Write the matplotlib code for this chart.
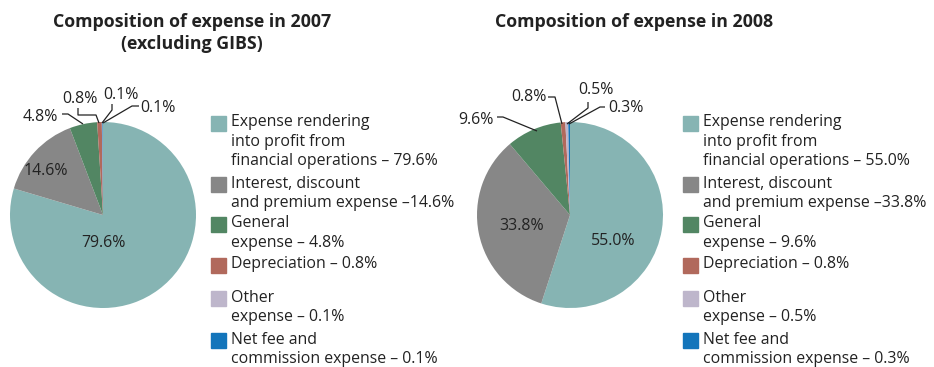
import matplotlib
matplotlib.use("Agg")
import matplotlib.pyplot as plt
from matplotlib.patches import Rectangle

# Expense categories (legend wording, with line breaks)
categories = [
    "Expense rendering\ninto profit from\nfinancial operations",
    "Interest, discount\nand premium expense",
    "General\nexpense",
    "Depreciation",
    "Other\nexpense",
    "Net fee and\ncommission expense",
]
dash_sep = [" – ", " –", " – ", " – ", " – ", " – "]
colors = ["#86B4B3", "#878787", "#528663", "#B1695C", "#BEB6CB", "#1375BB"]

values_2007 = [79.6, 14.6, 4.8, 0.8, 0.1, 0.1]
values_2008 = [55.0, 33.8, 9.6, 0.8, 0.5, 0.3]

title_2007 = "Composition of expense in 2007\n(excluding GIBS)"
title_2008 = "Composition of expense in 2008"

W, H = 934, 367
fig = plt.figure(figsize=(W / 100, H / 100), dpi=100)
plt.rcParams["font.family"] = ["Open Sans", "DejaVu Sans"]

TXT = "#222222"
FS = 11.4


def fx(px):
    return px / W


def fy(py):
    return 1 - py / H


def pie_axes(cx, cy, r):
    ax = fig.add_axes([fx(cx - r), fy(cy + r), 2 * r / W, 2 * r / H])
    return ax


def draw_pie(ax, cx, cy, r, values, inner, outer):
    wedges, _ = ax.pie(values, colors=colors, startangle=90, counterclock=False,
                       radius=1.0, wedgeprops=dict(linewidth=0))
    ax.set_xlim(-1, 1)
    ax.set_ylim(-1, 1)
    ax.set_aspect("equal")
    ax.axis("off")

    def to_data(px, py):
        return ((px - cx) / r, (cy - py) / r)

    # labels inside large slices
    for idx, (px, py) in inner.items():
        x, y = to_data(px, py)
        ax.text(x, y, f"{values[idx]:.1f}%", ha="center", va="center",
                fontsize=FS, color=TXT)
    # labels outside small slices, with leader lines
    for idx, (tx, ty, ha, path) in outer.items():
        x, y = to_data(tx, ty)
        ax.text(x, y, f"{values[idx]:.1f}%", ha=ha, va="center",
                fontsize=FS, color=TXT, clip_on=False)
        pts = [to_data(px, py) for px, py in path]
        ax.plot([p[0] for p in pts], [p[1] for p in pts], color=TXT,
                lw=0.9, clip_on=False, solid_capstyle="butt")


def draw_legend(x0, tops, values):
    for i, (cat, sep, col) in enumerate(zip(categories, dash_sep, colors)):
        y = tops[i]
        fig.patches.append(Rectangle((fx(x0), fy(y + 15)), 15 / W, 15 / H,
                                     transform=fig.transFigure, color=col))
        fig.text(fx(x0 + 20), fy(y - 1.5), f"{cat}{sep}{values[i]:.1f}%",
                 ha="left", va="top", fontsize=FS, color=TXT,
                 linespacing=1.28, transform=fig.transFigure)


# 2007
cx1, cy1, r1 = 103, 215, 93
ax1 = pie_axes(cx1, cy1, r1)
draw_pie(ax1, cx1, cy1, r1, values_2007,
         inner={0: (103, 243), 1: (46, 171)},
         outer={
             2: (40, 117, "center", [(62, 114), (68, 114), (83, 124)]),
             3: (80, 99, "center", [(78, 108), (78, 115), (96, 115), (99, 123)]),
             4: (121, 95, "center", [(112, 104), (112, 110), (102, 123)]),
             5: (158, 108, "center", [(139, 106), (132, 106), (103, 123)]),
         })
fig.text(fx(192), fy(33), title_2007, ha="center", va="center",
         fontsize=12.8, fontweight="bold", color=TXT, linespacing=1.3)

# 2008
cx2, cy2, r2 = 570, 215, 93
ax2 = pie_axes(cx2, cy2, r2)
draw_pie(ax2, cx2, cy2, r2, values_2008,
         inner={0: (613, 241), 1: (522, 226)},
         outer={
             2: (476, 120, "center", [(497, 117), (503, 117), (537, 131)]),
             3: (529, 97, "center", [(548, 97), (555, 97), (562, 124)]),
             4: (596, 90, "center", [(588, 102), (588, 108), (567, 124)]),
             5: (626, 108, "center", [(605, 107), (600, 107), (569, 124)]),
         })
fig.text(fx(634), fy(22), title_2008, ha="center", va="center",
         fontsize=12.8, fontweight="bold", color=TXT)

tops = [116, 177, 217, 258, 291, 333]
draw_legend(211, tops, values_2007)
draw_legend(683, tops, values_2008)

fig.savefig("out.png", dpi=100)
